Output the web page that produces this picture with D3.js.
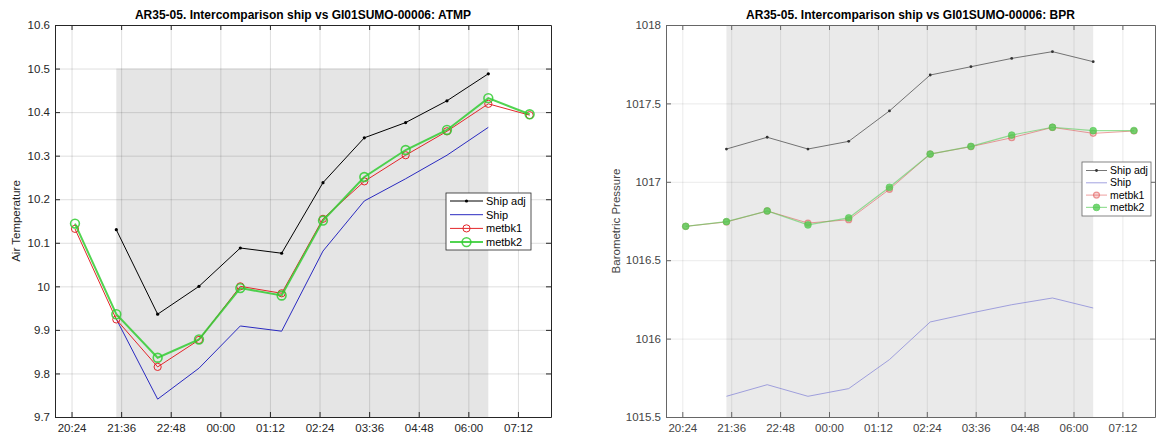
<!DOCTYPE html>
<html>
<head>
<meta charset="utf-8">
<script src="https://cdn.jsdelivr.net/npm/d3@7"></script>
<style>
  body { margin: 0; background: #fff; }
  svg { display: block; font-family: "Liberation Sans", Arial, sans-serif; }
</style>
</head>
<body>
<svg id="fig" width="1156" height="437"></svg>
<script>
// sample times (hourly) and axis ticks
var times = ["20:29", "21:29", "22:29", "23:29", "00:29", "01:29", "02:29", "03:29", "04:29", "05:29", "06:29", "07:29"];
var xTicks = ["20:24", "21:36", "22:48", "00:00", "01:12", "02:24", "03:36", "04:48", "06:00", "07:12"];
var xDomain = ["20:00", "08:00"];
var shadeSpan = ["21:29", "06:29"];

// ATMP panel
var atmpTicks = [9.7, 9.8, 9.9, 10, 10.1, 10.2, 10.3, 10.4, 10.5, 10.6];
var atmpShipAdj = [null, 10.130, 9.936, 10.000, 10.088, 10.076, 10.238, 10.341, 10.376, 10.426, 10.488, null];
var atmpShip    = [null, 9.925, 9.741, 9.812, 9.909, 9.897, 10.081, 10.196, 10.247, 10.301, 10.365, null];
var atmpMetbk1  = [10.132, 9.924, 9.815, 9.877, 10.000, 9.984, 10.155, 10.241, 10.301, 10.356, 10.419, 10.393];
var atmpMetbk2  = [10.144, 9.936, 9.836, 9.878, 9.996, 9.979, 10.151, 10.251, 10.313, 10.359, 10.432, 10.395];

// BPR panel
var bprTicks = [1015.5, 1016, 1016.5, 1017, 1017.5, 1018];
var bprShipAdj = [null, 1017.209, 1017.284, 1017.209, 1017.258, 1017.452, 1017.681, 1017.734, 1017.787, 1017.830, 1017.766, null];
var bprShip    = [null, 1015.632, 1015.706, 1015.632, 1015.681, 1015.866, 1016.106, 1016.163, 1016.216, 1016.259, 1016.195, null];
var bprMetbk1  = [1016.716, 1016.744, 1016.814, 1016.737, 1016.758, 1016.952, 1017.177, 1017.224, 1017.281, 1017.347, 1017.309, 1017.324];
var bprMetbk2  = [1016.716, 1016.746, 1016.814, 1016.725, 1016.770, 1016.965, 1017.177, 1017.226, 1017.298, 1017.348, 1017.326, 1017.327];

var legendNames = ["Ship adj", "Ship", "metbk1", "metbk2"];

function parseT(s) {
  var p = s.split(":"), h = +p[0], m = +p[1];
  return new Date(2019, 9, h >= 12 ? 1 : 2, h, m);
}

var svg = d3.select("#fig");
var fmtY = d3.format("~g");
var fmtX = d3.timeFormat("%H:%M");

function drawPanel(cfg) {
  var x = d3.scaleTime().domain(xDomain.map(parseT)).range([cfg.left, cfg.right]);
  var y = d3.scaleLinear().domain([cfg.ticks[0], cfg.ticks[cfg.ticks.length - 1]]).range([cfg.bottom, cfg.top]);
  var g = svg.append("g");
  var xt = xTicks.map(parseT);

  // shaded interval
  g.append("rect")
    .attr("x", x(parseT(shadeSpan[0])))
    .attr("y", y(cfg.shadeTop))
    .attr("width", x(parseT(shadeSpan[1])) - x(parseT(shadeSpan[0])))
    .attr("height", y(cfg.ticks[0]) - y(cfg.shadeTop))
    .attr("fill", cfg.shade);

  // grid
  g.append("g").attr("transform", "translate(0," + cfg.bottom + ")")
    .call(d3.axisBottom(x).tickValues(xt).tickSize(-(cfg.bottom - cfg.top)).tickFormat(""))
    .call(s => s.select(".domain").remove())
    .selectAll("line").attr("stroke", "#262626").attr("stroke-opacity", cfg.gridAlpha);
  g.append("g").attr("transform", "translate(" + cfg.left + ",0)")
    .call(d3.axisLeft(y).tickValues(cfg.ticks).tickSize(-(cfg.right - cfg.left)).tickFormat(""))
    .call(s => s.select(".domain").remove())
    .selectAll("line").attr("stroke", "#262626").attr("stroke-opacity", cfg.gridAlpha);

  // series
  cfg.series.forEach(function(s) {
    var pts = s.values.map((v, i) => ({ t: parseT(times[i]), v: v })).filter(d => d.v != null);
    var line = d3.line().x(d => x(d.t)).y(d => y(d.v));
    g.append("path").datum(pts)
      .attr("d", line)
      .attr("fill", "none")
      .attr("stroke", s.color)
      .attr("stroke-width", s.width)
      .attr("stroke-opacity", s.opacity);
    if (s.marker) {
      g.selectAll(null).data(pts).enter().append("circle")
        .attr("cx", d => x(d.t))
        .attr("cy", d => y(d.v))
        .attr("r", s.marker.r)
        .attr("fill", s.marker.fill)
        .attr("fill-opacity", s.marker.fillOpacity || 1)
        .attr("stroke", s.marker.stroke)
        .attr("stroke-width", s.marker.sw)
        .attr("stroke-opacity", s.opacity);
    }
  });

  // axes with inward ticks, box on
  var tickCol = cfg.axisColor;
  var bottomAxis = g.append("g").attr("transform", "translate(0," + cfg.bottom + ")")
    .call(d3.axisBottom(x).tickValues(xt).tickFormat(fmtX).tickSizeInner(-5).tickSizeOuter(0).tickPadding(7));
  var leftAxis = g.append("g").attr("transform", "translate(" + cfg.left + ",0)")
    .call(d3.axisLeft(y).tickValues(cfg.ticks).tickFormat(fmtY).tickSizeInner(-5).tickSizeOuter(0).tickPadding(5));
  var topAxis = g.append("g").attr("transform", "translate(0," + cfg.top + ")")
    .call(d3.axisTop(x).tickValues(xt).tickFormat("").tickSizeInner(-5).tickSizeOuter(0));
  var rightAxis = g.append("g").attr("transform", "translate(" + cfg.right + ",0)")
    .call(d3.axisRight(y).tickValues(cfg.ticks).tickFormat("").tickSizeInner(-5).tickSizeOuter(0));
  [bottomAxis, leftAxis, topAxis, rightAxis].forEach(function(a) {
    a.select(".domain").attr("stroke", tickCol);
    a.selectAll(".tick line").attr("stroke", tickCol);
    a.selectAll("text").attr("fill", cfg.textColor).style("font-size", "11.5px")
      .style("font-family", "'Liberation Sans', Arial, sans-serif");
  });

  // title and axis label
  g.append("text")
    .attr("x", (cfg.left + cfg.right) / 2)
    .attr("y", 19)
    .attr("text-anchor", "middle")
    .style("font-size", "12px")
    .style("font-weight", "bold")
    .attr("fill", "#000")
    .text(cfg.title);
  g.append("text")
    .attr("transform", "translate(" + cfg.ylabelX + "," + (cfg.top + cfg.bottom) / 2 + ") rotate(-90)")
    .attr("text-anchor", "middle")
    .style("font-size", "11.5px")
    .attr("fill", cfg.textColor)
    .text(cfg.ylabel);

  // legend
  var L = cfg.legend;
  var lg = g.append("g");
  lg.append("rect")
    .attr("x", L.x).attr("y", L.y).attr("width", L.w).attr("height", L.h)
    .attr("fill", "#fff").attr("stroke", tickCol).attr("stroke-width", 0.8);
  cfg.series.forEach(function(s, i) {
    var ry = L.y + L.first + i * L.step;
    lg.append("line")
      .attr("x1", L.x + 4).attr("x2", L.x + 4 + L.sample)
      .attr("y1", ry).attr("y2", ry)
      .attr("stroke", s.color).attr("stroke-width", s.width).attr("stroke-opacity", s.opacity);
    if (s.marker) {
      lg.append("circle")
        .attr("cx", L.x + 4 + L.sample / 2).attr("cy", ry)
        .attr("r", s.marker.r)
        .attr("fill", s.marker.fill)
        .attr("fill-opacity", s.marker.fillOpacity || 1)
        .attr("stroke", s.marker.stroke)
        .attr("stroke-width", s.marker.sw)
        .attr("stroke-opacity", s.opacity);
    }
    lg.append("text")
      .attr("x", L.x + 7 + L.sample).attr("y", ry)
      .attr("dy", "0.35em")
      .style("font-size", L.font)
      .attr("fill", "#000")
      .text(legendNames[i]);
  });
}

drawPanel({
  left: 55, right: 551, top: 25, bottom: 417,
  ticks: atmpTicks, shadeTop: 10.5, shade: "#e5e5e5", gridAlpha: 0.15,
  axisColor: "#262626", textColor: "#262626",
  title: "AR35-05. Intercomparison ship vs GI01SUMO-00006: ATMP",
  ylabel: "Air Temperature", ylabelX: 20,
  legend: { x: 446, y: 193, w: 85, h: 57, first: 8, step: 13.7, sample: 33, font: "11px" },
  series: [
    { values: atmpShipAdj, color: "#000", width: 1, opacity: 1, marker: { r: 1.6, fill: "#000", stroke: "#000", sw: 0 } },
    { values: atmpShip, color: "#2a2ac0", width: 1, opacity: 1 },
    { values: atmpMetbk1, color: "#e3262a", width: 1, opacity: 1, marker: { r: 3.6, fill: "none", stroke: "#e3262a", sw: 1 } },
    { values: atmpMetbk2, color: "#33cc33", width: 2, opacity: 0.85, marker: { r: 4.4, fill: "none", stroke: "#33cc33", sw: 1.6 } }
  ]
});

drawPanel({
  left: 666, right: 1155, top: 25, bottom: 417,
  ticks: bprTicks, shadeTop: 1018, shade: "#eaeaea", gridAlpha: 0.09,
  axisColor: "#666", textColor: "#444",
  title: "AR35-05. Intercomparison ship vs GI01SUMO-00006: BPR",
  ylabel: "Barometric Pressure", ylabelX: 620,
  legend: { x: 1082, y: 162, w: 69, h: 54, first: 8.5, step: 12.3, sample: 21, font: "10.5px" },
  series: [
    { values: bprShipAdj, color: "#555", width: 0.9, opacity: 0.9, marker: { r: 1.4, fill: "#333", stroke: "#333", sw: 0 } },
    { values: bprShip, color: "#8c8cd8", width: 1, opacity: 0.8 },
    { values: bprMetbk1, color: "#e05050", width: 1, opacity: 0.55, marker: { r: 3, fill: "#e05050", fillOpacity: 0.25, stroke: "#e05050", sw: 1.2 } },
    { values: bprMetbk2, color: "#55cc55", width: 1.2, opacity: 0.6, marker: { r: 3.4, fill: "#55cc55", fillOpacity: 0.8, stroke: "#55cc55", sw: 1 } }
  ]
});
</script>
</body>
</html>
